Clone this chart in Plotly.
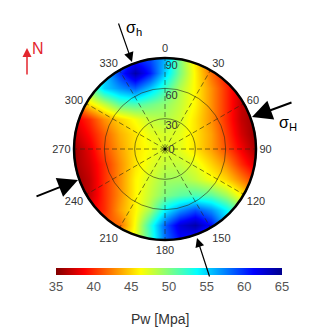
import numpy as np
import plotly.graph_objects as go

# ---------------- data ----------------
# grid positions in "inclination degrees" (90 = horizontal well, circle edge); x = east, y = north
grid_x = [-90, -75, -60, -45, -30, -15, 0, 15, 30, 45, 60, 75, 90]
grid_y = [90, 75, 60, 45, 30, 15, 0, -15, -30, -45, -60, -75, -90]
# required well pressure Pw [MPa], rows from north (top) to south (bottom)
pw_rows = [
    [48, 50, 55, 58, 60, 59, 56, 50, 45.5, 41, 38, 36.5, 36],
    [46, 50, 55, 60, 64, 60.5, 55, 50, 46, 42, 39, 37, 36],
    [45, 50, 55, 57, 58.5, 55.5, 52, 48.5, 46, 43, 40, 37, 36],
    [41, 45.5, 48, 51, 51.5, 50.5, 49.5, 48, 46, 43, 40, 37, 35.5],
    [38, 40, 43, 45, 46.5, 48, 48.5, 47.5, 45.5, 43, 40, 37, 35.5],
    [37, 39, 41.5, 44, 45.5, 47, 47.5, 47, 45.5, 43.5, 40.5, 37.5, 35.5],
    [36, 38, 41, 43.5, 45.5, 46.5, 47.5, 47, 45.5, 43.5, 41, 38.5, 36],
    [36, 37.5, 40, 43, 45.5, 47, 48, 48, 47, 45, 43, 40, 37.5],
    [35.5, 37, 40, 43, 46, 47.5, 49, 49, 48, 46.5, 45, 42.5, 40],
    [35.5, 37, 40, 43, 46, 48, 50, 51, 51.5, 51, 49, 46, 43],
    [37, 38, 40, 43.5, 46, 49, 54, 57, 59, 57, 54, 50, 46],
    [40, 40, 41, 42, 46.5, 52.5, 58.5, 62.5, 64, 61, 55.5, 50.5, 46],
    [44, 44, 44, 44.5, 47, 52, 58, 61, 60, 56, 51, 48, 46],
]
azimuth_ticks = [0, 30, 60, 90, 120, 150, 180, 210, 240, 270, 300, 330]
inclination_ticks = [0, 30, 60, 90]
pw_ticks = [35, 40, 45, 50, 55, 60, 65]
pw_min, pw_max = 35, 65
center_r = [0]
center_theta = [0]

# ---------------- styling ----------------
FONT = "Liberation Sans, Arial, sans-serif"
OFF = 8                      # page body margin in the browser
W, H = 320 - OFF, 335 - OFF  # figure size that fits the window


def px(x):   # screenshot x -> paper
    return (x - OFF) / W


def py(y):   # screenshot y -> paper
    return 1 - (y - OFF) / H


dom_x = [px(74), px(256)]
dom_y = [py(240), py(58)]

jet_r = [
    [0.0, "rgb(128,0,0)"],
    [0.125, "rgb(255,0,0)"],
    [0.375, "rgb(255,255,0)"],
    [0.625, "rgb(0,255,255)"],
    [0.875, "rgb(0,0,255)"],
    [1.0, "rgb(0,0,140)"],
]

fig = go.Figure()

fig.add_trace(go.Heatmap(
    x=grid_x, y=grid_y[::-1], z=pw_rows[::-1],
    zmin=pw_min, zmax=pw_max, zsmooth="best", colorscale=jet_r,
    hoverinfo="skip",
    colorbar=dict(
        orientation="h", x=px(169), xanchor="center", lenmode="pixels", len=226,
        y=py(268), yanchor="top", ypad=0, xpad=0, thickness=7,
        outlinewidth=0, tickmode="array", tickvals=pw_ticks, ticks="",
        tickfont=dict(family=FONT, size=13, color="#555"),
    ),
))

# white mask outside the stereonet circle
t = np.linspace(0, -2 * np.pi, 361)
R = 90.8
mask_x = [100, 100, -100, -100, 100, 100, None] + list(R * np.cos(t))
mask_y = [0, 100, 100, -100, -100, 0, None] + list(R * np.sin(t))
fig.add_trace(go.Scatter(x=mask_x, y=mask_y, mode="lines", fill="toself",
                         fillcolor="white", line=dict(width=0, color="white"),
                         hoverinfo="skip", showlegend=False))

fig.add_trace(go.Scatterpolar(r=center_r, theta=center_theta, mode="markers",
                              marker=dict(size=3, color="black"), hoverinfo="skip",
                              showlegend=False, subplot="polar"))

grid_col = "rgba(40,40,20,0.6)"
fig.update_layout(
    width=W, height=H, margin=dict(l=0, r=0, t=0, b=0),
    paper_bgcolor="white", plot_bgcolor="white", showlegend=False,
    xaxis=dict(domain=dom_x, range=[-90, 90], visible=False, fixedrange=True),
    yaxis=dict(domain=dom_y, range=[-90, 90], visible=False, fixedrange=True),
    polar=dict(
        domain=dict(x=dom_x, y=dom_y), bgcolor="rgba(0,0,0,0)",
        angularaxis=dict(rotation=90, direction="clockwise", tickmode="array",
                         tickvals=azimuth_ticks, ticktext=[str(a) for a in azimuth_ticks],
                         ticks="", showline=True, linecolor="black", linewidth=2.5,
                         showgrid=True, gridcolor=grid_col, gridwidth=1, griddash="5px,3px",
                         tickfont=dict(family=FONT, size=11, color="#333")),
        radialaxis=dict(range=[0, 90], tickmode="array", tickvals=inclination_ticks,
                        ticktext=[" " + str(v) if v == 0 else "<br>" + str(v) for v in inclination_ticks],
                        angle=90, tickangle=90, showline=False, ticks="",
                        showgrid=True, gridcolor=grid_col, gridwidth=1,
                        tickfont=dict(family=FONT, size=11, color="#333")),
    ),
)


def arrow(tip, tail, color="black", width=1.2, size=1.5):
    return dict(x=px(tip[0]), y=py(tip[1]), xref="paper", yref="paper",
                ax=tail[0] - tip[0], ay=tail[1] - tip[1], axref="pixel", ayref="pixel",
                text="", showarrow=True, arrowhead=2, arrowsize=size, arrowwidth=width,
                arrowcolor=color, standoff=0)


def label(pos, text, size, color="black", xanchor="center"):
    return dict(x=px(pos[0]), y=py(pos[1]), xref="paper", yref="paper", text=text,
                showarrow=False, xanchor=xanchor, yanchor="middle",
                font=dict(family=FONT, size=size, color=color))


anns = [
    arrow((27, 48), (27, 76), color="#e3262e", width=1.5, size=1.2),
    label((38, 49), "N", 16, color="#e3262e"),
    arrow((132, 62), (118, 22), width=1.2, size=1.6),
    label((124, 28), "σ<sub>h</sub>", 16, xanchor="left"),
    arrow((252, 117), (293, 102), width=2, size=2),
    label((277, 123), "σ<sub>H</sub>", 16, xanchor="left"),
    arrow((78, 180), (35, 197), width=2, size=2),
    arrow((197, 238), (210, 278), width=1.2, size=1.5),
    label((160, 319), "Pw [Mpa]", 14, color="#333"),
]
fig.update_layout(annotations=anns)

fig.write_html("out.html")
